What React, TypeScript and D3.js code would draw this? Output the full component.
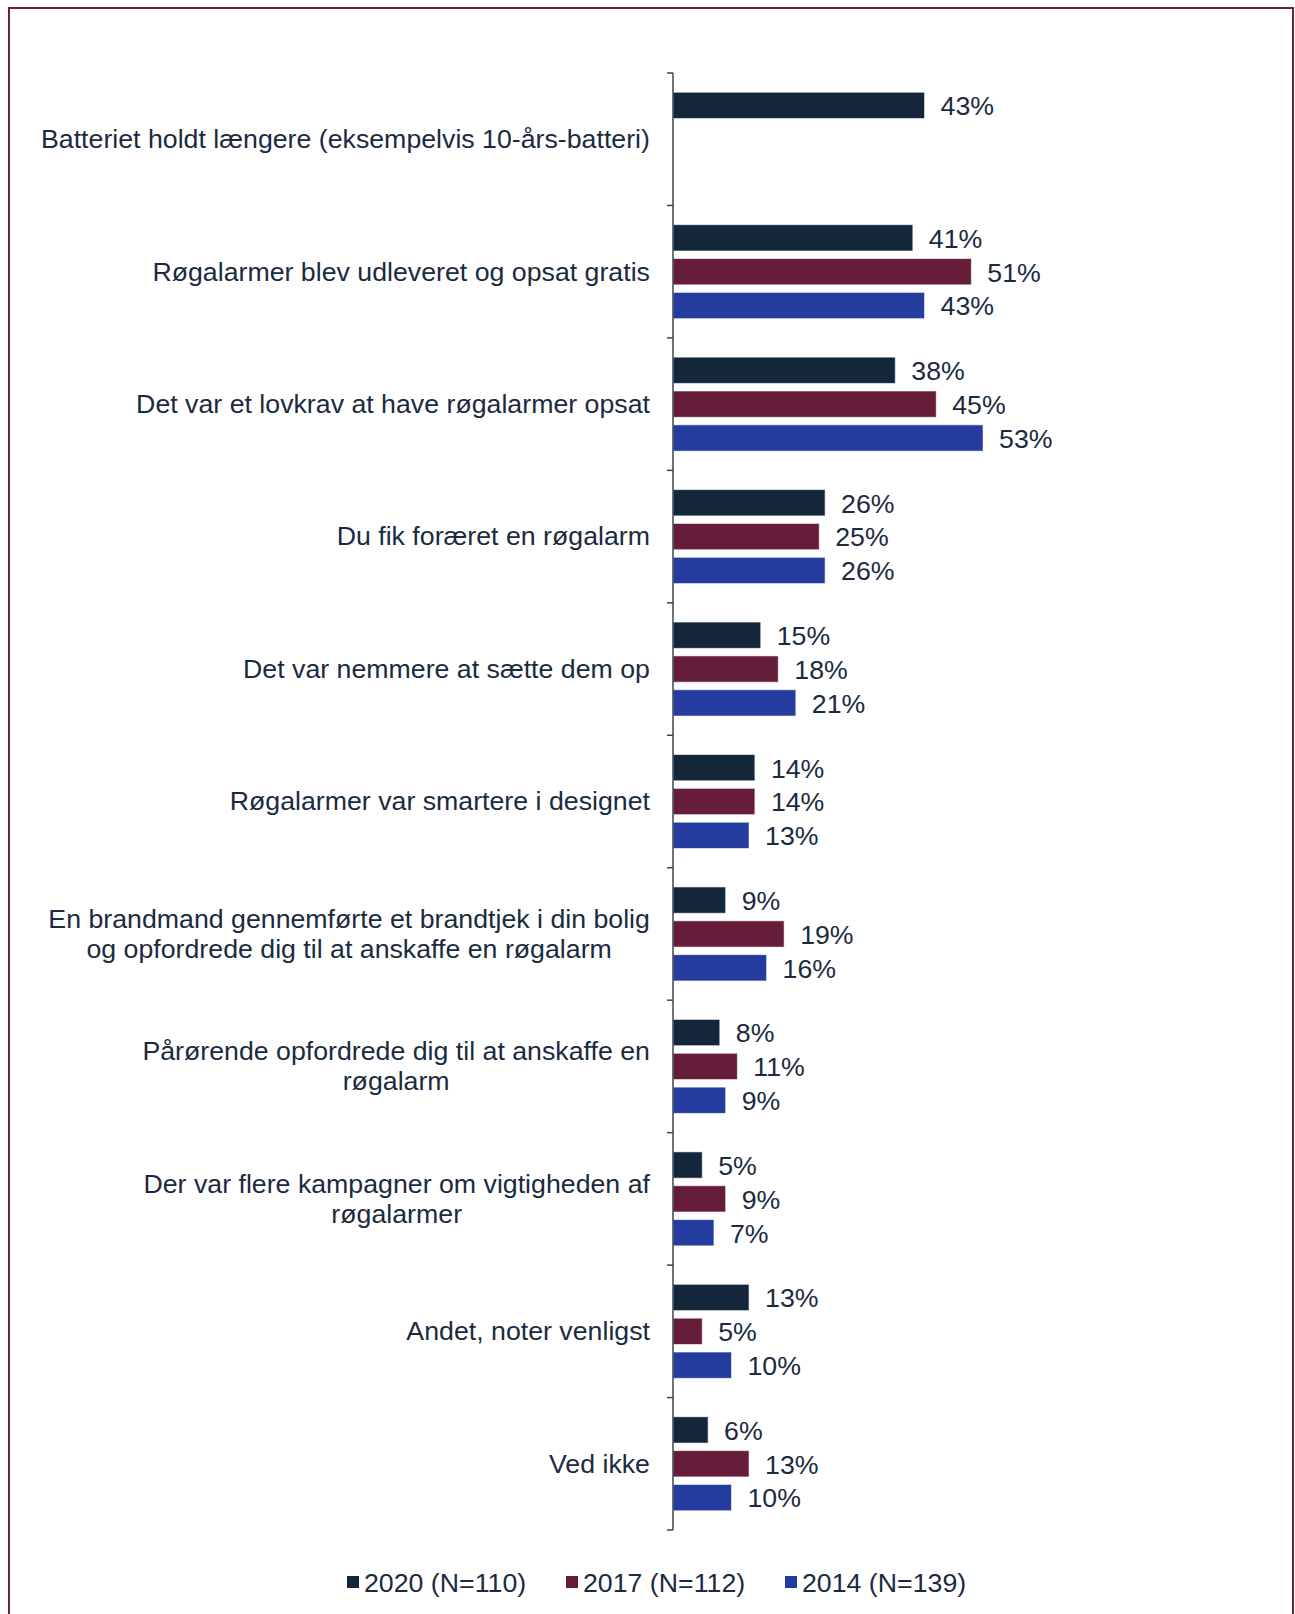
import React, { useEffect, useRef } from "react";
import * as d3 from "d3";

const categories: string[][] = [
  ["Batteriet holdt længere (eksempelvis 10-års-batteri)"],
  ["Røgalarmer blev udleveret og opsat gratis"],
  ["Det var et lovkrav at have røgalarmer opsat"],
  ["Du fik foræret en røgalarm"],
  ["Det var nemmere at sætte dem op"],
  ["Røgalarmer var smartere i designet"],
  ["En brandmand gennemførte et brandtjek i din bolig", "og opfordrede dig til at anskaffe en røgalarm"],
  ["Pårørende opfordrede dig til at anskaffe en", "røgalarm"],
  ["Der var flere kampagner om vigtigheden af", "røgalarmer"],
  ["Andet, noter venligst"],
  ["Ved ikke"],
];

const seriesNames = ["2020 (N=110)", "2017 (N=112)", "2014 (N=139)"];
const seriesColors = ["#13263a", "#651d3a", "#233c9e"];

const values2020: (number | null)[] = [43, 41, 38, 26, 15, 14, 9, 8, 5, 13, 6];
const values2017: (number | null)[] = [null, 51, 45, 25, 18, 14, 19, 11, 9, 5, 13];
const values2014: (number | null)[] = [null, 43, 53, 26, 21, 13, 16, 9, 7, 10, 10];

const allSeries = [values2020, values2017, values2014];

const W = 1295;
const H = 1614;
const textColor = "#1a2b40";
const fontFamily = "Arial, 'Liberation Sans', sans-serif";
const fontSize = 26;
const stretch = 1.028;

export default function App() {
  const ref = useRef<SVGSVGElement | null>(null);

  useEffect(() => {
    const svg = d3.select(ref.current);
    svg.selectAll("*").remove();

    // border
    svg
      .append("rect")
      .attr("x", 9)
      .attr("y", 8)
      .attr("width", 1284)
      .attr("height", 1640)
      .attr("fill", "none")
      .attr("stroke", "#6b1f42")
      .attr("stroke-width", 2);

    const axisX = 673;
    const y = d3
      .scaleBand<number>()
      .domain(d3.range(categories.length))
      .range([73, 1530])
      .padding(0);

    const inner = d3
      .scaleBand<number>()
      .domain([0, 1, 2])
      .range([0, y.bandwidth()])
      .paddingInner(0.223)
      .paddingOuter(0.568);

    const x = d3.scaleLinear().domain([0, 100]).range([axisX, axisX + 585]);

    const g = svg.append("g");

    const addText = (tx: number, ty: number, str: string, anchor = "start") =>
      g
        .append("text")
        .attr("transform", `translate(${tx},${ty}) scale(${stretch},1)`)
        .attr("text-anchor", anchor)
        .attr("dominant-baseline", "central")
        .attr("font-family", fontFamily)
        .attr("font-size", fontSize)
        .attr("fill", textColor)
        .text(str);

    // bars
    categories.forEach((_, ci) => {
      allSeries.forEach((s, si) => {
        const v = s[ci];
        if (v == null) return;
        const by = (y(ci) as number) + (inner(si) as number);
        g.append("rect")
          .attr("x", x(0))
          .attr("y", by)
          .attr("width", x(v) - x(0))
          .attr("height", inner.bandwidth())
          .attr("fill", seriesColors[si])
          .attr("stroke", "#ffffff")
          .attr("stroke-opacity", 0.6)
          .attr("stroke-width", 1);
        addText(x(v) + 16, by + inner.bandwidth() / 2 + 1, `${v}%`);
      });
    });

    // axis
    g.append("line")
      .attr("x1", axisX)
      .attr("x2", axisX)
      .attr("y1", 73)
      .attr("y2", 1530)
      .attr("stroke", "#3b4654")
      .attr("stroke-width", 1.5);
    const ticks = d3.range(categories.length + 1).map((i) =>
      i < categories.length ? (y(i) as number) : 1530
    );
    ticks.forEach((ty) => {
      g.append("line")
        .attr("x1", axisX - 6)
        .attr("x2", axisX)
        .attr("y1", ty)
        .attr("y2", ty)
        .attr("stroke", "#3b4654")
        .attr("stroke-width", 1.5);
    });

    // category labels
    const rightEdge = 650;
    const lineH = 30;
    categories.forEach((lines, ci) => {
      const cy = (y(ci) as number) + y.bandwidth() / 2;
      const t = g
        .append("text")
        .attr("font-family", fontFamily)
        .attr("font-size", fontSize)
        .attr("fill", textColor)
        .attr("text-anchor", "middle");
      const tspans = lines.map((ln, li) =>
        t
          .append("tspan")
          .attr("x", 0)
          .attr("y", (li - (lines.length - 1) / 2) * lineH)
          .attr("dominant-baseline", "central")
          .text(ln)
      );
      let maxW = 0;
      tspans.forEach((ts) => {
        const w = (ts.node() as SVGTSpanElement).getComputedTextLength();
        if (w > maxW) maxW = w;
      });
      const cx = rightEdge - (maxW * stretch) / 2;
      t.attr("transform", `translate(${cx},${cy}) scale(${stretch},1)`);
    });

    // legend
    const legendX = [347, 566, 785];
    const legendY = 1582;
    seriesNames.forEach((name, i) => {
      g.append("rect")
        .attr("x", legendX[i])
        .attr("y", legendY - 6)
        .attr("width", 12)
        .attr("height", 12)
        .attr("fill", seriesColors[i]);
      addText(legendX[i] + 17, legendY + 1, name);
    });
  }, []);

  return (
    <div style={{ position: "absolute", left: 0, top: 0, width: W, height: H, background: "#fff" }}>
      <svg ref={ref} width={W} height={H} style={{ display: "block" }} />
    </div>
  );
}
